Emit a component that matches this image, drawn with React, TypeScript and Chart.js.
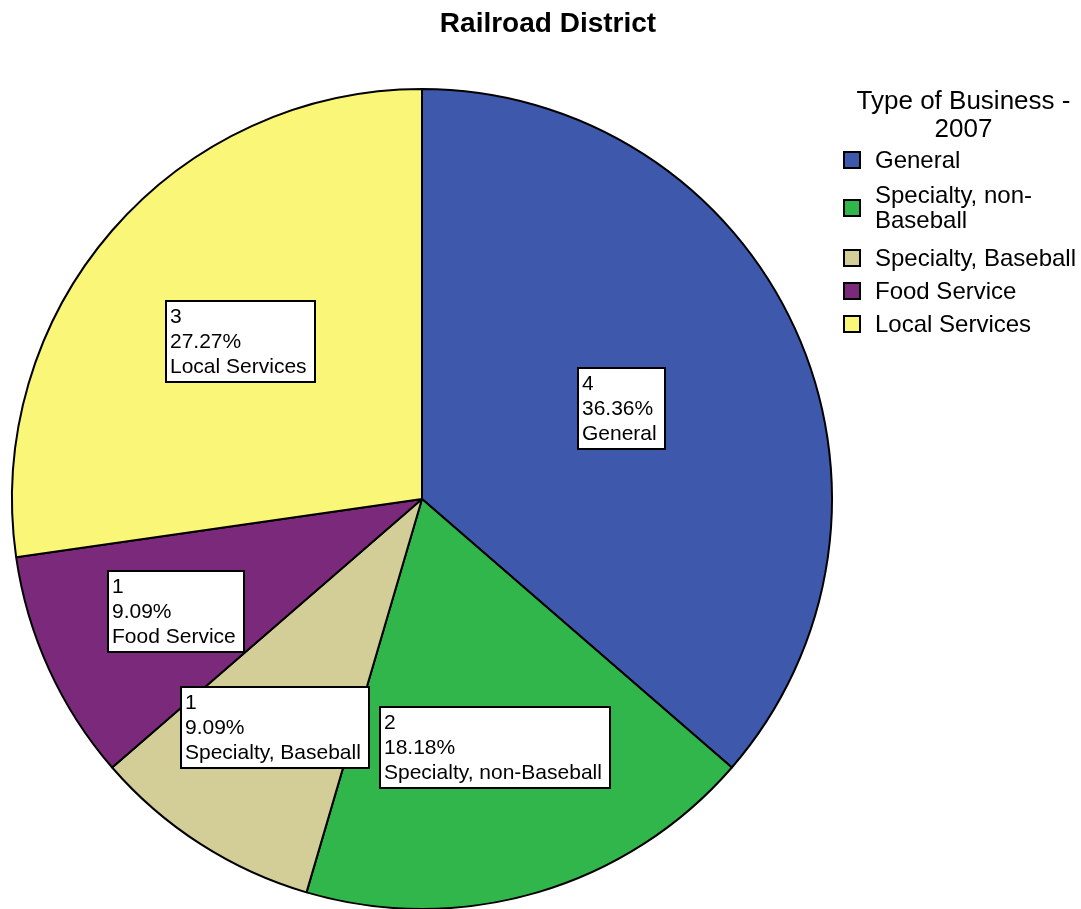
import React, { useEffect, useRef } from "react";
import { Chart, registerables } from "chart.js";

Chart.register(...registerables);

const chartTitle = "Railroad District";
const legendTitle = ["Type of Business -", "2007"];
const categories = [
  "General",
  "Specialty, non-Baseball",
  "Specialty, Baseball",
  "Food Service",
  "Local Services",
];
const legendLabels = [
  ["General"],
  ["Specialty, non-", "Baseball"],
  ["Specialty, Baseball"],
  ["Food Service"],
  ["Local Services"],
];
const counts = [4, 2, 1, 1, 3];
const colors = ["#3e58ab", "#30b64a", "#d3ce98", "#7b2a7b", "#faf678"];

// layout (not data)
const labelRadiusFractions = [0.534, 0.631, 0.662, 0.659, 0.586];
const legendItemBaselines = [[168], [203, 228], [266], [299], [332]];
const legendSquareCenters = [160, 208, 258, 291, 324];
const FONT = "'Liberation Sans', Arial, Helvetica, sans-serif";

const overlayPlugin = {
  id: "overlay",
  afterDraw(chart: any) {
    const ctx = chart.ctx as CanvasRenderingContext2D;
    const meta = chart.getDatasetMeta(0);
    const total = counts.reduce((a, b) => a + b, 0);
    ctx.save();

    // Title
    ctx.fillStyle = "#000";
    ctx.font = `bold 28px ${FONT}`;
    ctx.textAlign = "center";
    ctx.textBaseline = "alphabetic";
    ctx.fillText(chartTitle, 548, 32);

    // Slice labels
    ctx.font = `21px ${FONT}`;
    ctx.textAlign = "left";
    ctx.textBaseline = "middle";
    const lh = 25;
    meta.data.forEach((arc: any, i: number) => {
      const { x, y, startAngle, endAngle, outerRadius } = arc.getProps(
        ["x", "y", "startAngle", "endAngle", "outerRadius"],
        true
      );
      const mid = (startAngle + endAngle) / 2;
      const d = outerRadius * labelRadiusFractions[i];
      const cx = x + Math.cos(mid) * d;
      const cy = y + Math.sin(mid) * d;
      const lines = [
        String(counts[i]),
        ((counts[i] / total) * 100).toFixed(2) + "%",
        categories[i],
      ];
      const w = Math.round(Math.max(...lines.map((l) => ctx.measureText(l).width)) + 12);
      const h = lines.length * lh + 6;
      const bx = Math.round(cx - w / 2);
      const by = Math.round(cy - h / 2);
      ctx.fillStyle = "#fff";
      ctx.fillRect(bx, by, w, h);
      ctx.strokeStyle = "#000";
      ctx.lineWidth = 2;
      ctx.strokeRect(bx, by, w, h);
      ctx.fillStyle = "#000";
      lines.forEach((l, j) => ctx.fillText(l, bx + 4, by + 4 + lh / 2 + j * lh));
    });

    // Legend
    ctx.font = `26px ${FONT}`;
    ctx.textBaseline = "alphabetic";
    ctx.textAlign = "center";
    ctx.fillStyle = "#000";
    ctx.fillText(legendTitle[0], 963.5, 109);
    ctx.fillText(legendTitle[1], 963.5, 137);
    ctx.font = `24px ${FONT}`;
    ctx.textAlign = "left";
    legendLabels.forEach((lines, i) => {
      const sy = legendSquareCenters[i];
      ctx.fillStyle = colors[i];
      ctx.fillRect(844, sy - 8, 16, 16);
      ctx.strokeStyle = "#000";
      ctx.lineWidth = 2;
      ctx.strokeRect(844, sy - 8, 16, 16);
      ctx.fillStyle = "#000";
      lines.forEach((l, j) => ctx.fillText(l, 875, legendItemBaselines[i][j]));
    });

    ctx.restore();
  },
};

export default function App() {
  const canvasRef = useRef<HTMLCanvasElement | null>(null);

  useEffect(() => {
    document.body.style.margin = "0";
    const canvas = canvasRef.current;
    if (!canvas) return;
    const chart = new Chart(canvas, {
      type: "pie",
      data: {
        labels: categories,
        datasets: [
          {
            data: counts,
            backgroundColor: colors,
            borderColor: "#000",
            borderWidth: 2,
            hoverBorderWidth: 2,
            radius: 410,
          } as any,
        ],
      },
      options: {
        responsive: false,
        animation: false,
        devicePixelRatio: 1,
        layout: { padding: { left: 0, right: 237, top: 89, bottom: 0 } },
        plugins: {
          legend: { display: false },
          title: { display: false },
          tooltip: { enabled: false },
        },
        events: [],
      },
      plugins: [overlayPlugin],
    });
    return () => chart.destroy();
  }, []);

  return (
    <div style={{ position: "absolute", left: 0, top: 0, width: 1081, height: 909, background: "#fff" }}>
      <canvas ref={canvasRef} width={1081} height={909} style={{ display: "block" }} />
    </div>
  );
}
